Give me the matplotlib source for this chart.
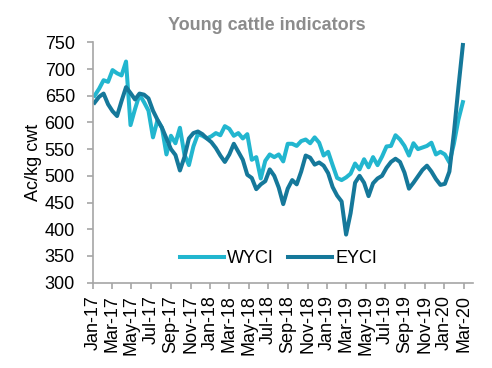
import matplotlib
matplotlib.use("Agg")
import matplotlib.pyplot as plt
import matplotlib.dates as mdates
import pandas as pd

plt.rcParams['font.family'] = ['Liberation Sans', 'DejaVu Sans']

# fortnightly observations from early Jan 2017
dates = pd.date_range("2017-01-06", periods=83, freq="14D")

eyci = [637, 648, 654, 634, 621, 612, 640, 666, 655, 643,
        654, 652, 645, 622, 605, 590, 570, 550, 539, 510,
        535, 570, 580, 583, 578, 570, 563, 552, 538, 526,
        540, 560, 545, 530, 502, 496, 475, 484, 490, 512,
        500, 478, 447, 476, 492, 484, 508, 538, 534, 521,
        525, 519, 505, 479, 463, 452, 390, 430, 487, 500,
        487, 462, 486, 495, 500, 515, 526, 532, 526, 506,
        476, 487, 499, 511, 519, 508, 494, 483, 485, 508,
        580, 665, 745]

wyci = [650, 663, 679, 676, 698, 692, 688, 714, 595, 625,
        652, 638, 622, 572, 604, 590, 540, 575, 561, 590,
        540, 520, 555, 578, 575, 570, 574, 580, 576, 593,
        588, 575, 580, 570, 578, 530, 535, 495, 528, 540,
        535, 540, 527, 560, 560, 556, 565, 568, 561, 572,
        562, 538, 545, 520, 496, 492, 497, 504, 523, 512,
        531, 516, 535, 520, 536, 555, 556, 576, 568, 556,
        538, 561, 550, 553, 556, 562, 540, 545, 540, 525,
        560, 605, 638]

title = "Young cattle indicators"
ylabel = "Ac/kg cwt"
yticks = [300, 350, 400, 450, 500, 550, 600, 650, 700, 750]

c_w = "#22B6CF"
c_e = "#15789A"
grey = "#A6A6A6"

fig = plt.figure(figsize=(4.92, 3.68), dpi=100)
ax = fig.add_axes([0.189, 0.232, 0.772, 0.653])

ax.plot(dates, wyci, color=c_w, lw=2.9, label="WYCI", solid_joinstyle="round")
ax.plot(dates, eyci, color=c_e, lw=2.9, label="EYCI", solid_joinstyle="round")

ax.set_ylim(300, 750)
ax.set_yticks(yticks)
ax.set_xlim(pd.Timestamp("2017-01-01"), pd.Timestamp("2020-03-30"))
ax.xaxis.set_major_locator(mdates.MonthLocator(bymonth=[1, 3, 5, 7, 9, 11]))
ax.xaxis.set_major_formatter(mdates.DateFormatter("%b-%y"))

for s in ["top", "right"]:
    ax.spines[s].set_visible(False)
for s in ["left", "bottom"]:
    ax.spines[s].set_color(grey)
    ax.spines[s].set_linewidth(1.2)

ax.tick_params(axis="y", direction="out", length=4, width=1.2, color=grey,
               labelsize=13, pad=9, labelcolor="black")
ax.tick_params(axis="x", direction="out", length=4, width=1.2, color=grey,
               labelsize=13, pad=5, labelcolor="black", labelrotation=90)

ax.set_ylabel(ylabel, fontsize=13)
ax.yaxis.set_label_coords(-0.133, 0.5)

fig.text(0.543, 0.918, title, fontsize=13, fontweight="bold", color="#8C8C8C",
         ha="center", va="baseline")

leg = ax.legend(loc="center", bbox_to_anchor=(0.489, 0.099), ncol=2,
                frameon=False, fontsize=13, handlelength=2.4,
                handletextpad=0.2, columnspacing=0.8)

fig.savefig("out.png", dpi=100)
